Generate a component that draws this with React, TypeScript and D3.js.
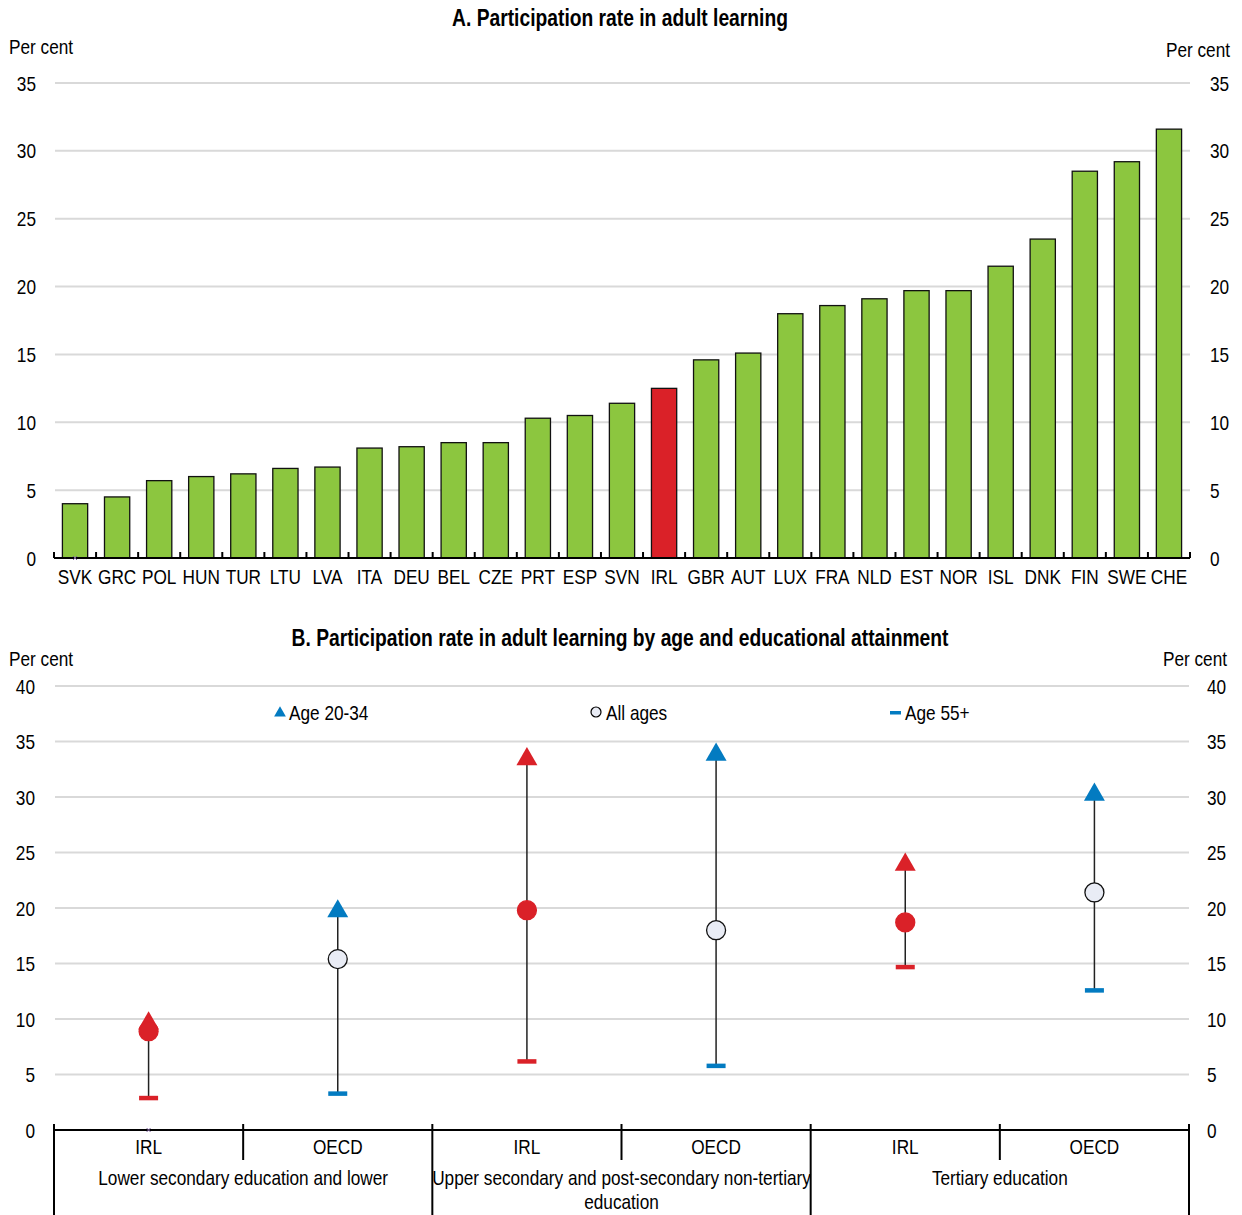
import React from "react";
import * as d3 from "d3";

const countries = ["SVK","GRC","POL","HUN","TUR","LTU","LVA","ITA","DEU","BEL","CZE","PRT","ESP","SVN","IRL","GBR","AUT","LUX","FRA","NLD","EST","NOR","ISL","DNK","FIN","SWE","CHE"];
const rates = [4.0,4.5,5.7,6.0,6.2,6.6,6.7,8.1,8.2,8.5,8.5,10.3,10.5,11.4,12.5,14.6,15.1,18.0,18.6,19.1,19.7,19.7,21.5,23.5,28.5,29.2,31.6];
const highlightCountry = "IRL";
const yTicksA = [0,5,10,15,20,25,30,35];

const groups = ["Lower secondary education and lower", "Upper secondary and post-secondary non-tertiary|education", "Tertiary education"];
const entities = ["IRL","OECD"];
const age2034 = [9.7, 19.8, 33.5, 33.9, 24.0, 30.3];
const allAges = [8.9, 15.4, 19.8, 18.0, 18.7, 21.4];
const age55 = [2.9, 3.3, 6.2, 5.8, 14.7, 12.6];
const yTicksB = [0,5,10,15,20,25,30,35,40];
const legendLabels = ["Age 20-34", "All ages", "Age 55+"];

const FONT = "'Liberation Sans',Arial,sans-serif";
const GREEN = "#8CC63F";
const RED = "#DA2128";
const BLUE = "#037BC1";
const GRID = "#D9D9D9";
const LIGHT = "#E9ECF5";
const NARROW = 0.82;

function T(props: { x: number; y: number; anchor?: string; size?: number; bold?: boolean; children: React.ReactNode }) {
  const { x, y, anchor = "start", size = 21, bold = false, children } = props;
  return (
    <text transform={`translate(${x},${y}) scale(${NARROW},1)`} textAnchor={anchor} fontSize={size}
      fontWeight={bold ? "bold" : "normal"} fill="#000">{children}</text>
  );
}

export default function App() {
  const left = 54, right = 1190;
  // Panel A
  const yA = d3.scaleLinear().domain([0, 35]).range([558, 83]);
  const xA = d3.scaleBand<string>().domain(countries).range([left, right]).paddingInner(0.4).paddingOuter(0.2);
  const boundariesA = d3.range(countries.length + 1).map(i => left + i * ((right - left) / countries.length));

  // Panel B
  const yB = d3.scaleLinear().domain([0, 40]).range([1130, 686]);
  const cats = d3.range(6).map(String);
  const xB = d3.scaleBand<string>().domain(cats).range([left, 1189]);
  const bw = xB.bandwidth();
  const tri = d3.symbol().type(d3.symbolTriangle).size(190)();

  return (
    <svg width={1242} height={1215} style={{ position: "absolute", left: 0, top: 0, background: "#fff" }} fontFamily={FONT}>
      {/* Panel A */}
      <T x={620} y={26} anchor="middle" bold size={23.5}>A. Participation rate in adult learning</T>
      <T x={9} y={54}>Per cent</T>
      <T x={1230} y={57} anchor="end">Per cent</T>
      {yTicksA.map(t => (
        <g key={"ga" + t}>
          {t > 0 && <line x1={55} x2={1190} y1={yA(t)} y2={yA(t)} stroke={GRID} strokeWidth={2} />}
          <T x={36} y={yA(t) + 7.5} anchor="end">{t}</T>
          <T x={1210} y={yA(t) + 7.5}>{t}</T>
        </g>
      ))}
      {countries.map((c, i) => (
        <rect key={c} x={xA(c)!} y={yA(rates[i])} width={xA.bandwidth()} height={yA(0) - yA(rates[i])}
          fill={c === highlightCountry ? RED : GREEN} stroke="#111" strokeWidth={1.3} />
      ))}
      <line x1={left} x2={right} y1={yA(0)} y2={yA(0)} stroke="#000" strokeWidth={2} />
      {boundariesA.map((b, i) => (
        <line key={"ta" + i} x1={b} x2={b} y1={yA(0)} y2={yA(0) - 6} stroke="#000" strokeWidth={2} />
      ))}
      <path d={`M${xA(countries[0])! + xA.bandwidth() / 2 - 2},${yA(0) - 2}l4,4M${xA(countries[0])! + xA.bandwidth() / 2 + 2},${yA(0) - 2}l-4,4`} stroke="#8064A2" strokeWidth={1} />
      {countries.map(c => (
        <T key={"la" + c} x={xA(c)! + xA.bandwidth() / 2} y={584} anchor="middle">{c}</T>
      ))}

      {/* Panel B */}
      <T x={620} y={646} anchor="middle" bold size={23.5}>B. Participation rate in adult learning by age and educational attainment</T>
      <T x={9} y={666}>Per cent</T>
      <T x={1227} y={666} anchor="end">Per cent</T>
      {yTicksB.map(t => (
        <g key={"gb" + t}>
          {t > 0 && <line x1={55} x2={1189} y1={yB(t)} y2={yB(t)} stroke={GRID} strokeWidth={2} />}
          <T x={35} y={yB(t) + 7.5} anchor="end">{t}</T>
          <T x={1207} y={yB(t) + 7.5}>{t}</T>
        </g>
      ))}

      {/* legend */}
      <path d={d3.symbol().type(d3.symbolTriangle).size(60)()!} transform="translate(280,713)" fill={BLUE} />
      <T x={289} y={720}>{legendLabels[0]}</T>
      <circle cx={596} cy={712} r={5} fill={LIGHT} stroke="#000" strokeWidth={1.2} />
      <T x={606} y={720}>{legendLabels[1]}</T>
      <rect x={890} y={711} width={11} height={3.5} fill={BLUE} />
      <T x={905} y={720}>{legendLabels[2]}</T>

      {cats.map((c, i) => {
        const cx = xB(c)! + bw / 2;
        const isIRL = entities[i % 2] === "IRL";
        const col = isIRL ? RED : BLUE;
        return (
          <g key={"pt" + c}>
            <line x1={cx} x2={cx} y1={yB(age55[i])} y2={yB(age2034[i])} stroke="#222" strokeWidth={1.5} />
            <rect x={cx - 9.5} y={yB(age55[i]) - 2} width={19} height={4.5} fill={col} />
            <path d={tri!} transform={`translate(${cx},${yB(age2034[i]) + 1})`} fill={col} />
            <circle cx={cx} cy={yB(allAges[i])} r={9.5} fill={isIRL ? RED : LIGHT} stroke={isIRL ? RED : "#111"} strokeWidth={1.3} />
          </g>
        );
      })}

      <line x1={left} x2={1189} y1={yB(0)} y2={yB(0)} stroke="#000" strokeWidth={2} />
      <path d={`M${xB("0")! + bw / 2 - 2},${yB(0) - 2}l4,4M${xB("0")! + bw / 2 + 2},${yB(0) - 2}l-4,4`} stroke="#8064A2" strokeWidth={1} />
      {d3.range(7).map(i => {
        const x = left + i * bw;
        const major = i % 2 === 0;
        return <line key={"tb" + i} x1={x} x2={x} y1={1124} y2={major ? 1215 : 1160} stroke="#000" strokeWidth={2} />;
      })}
      {cats.map((c, i) => (
        <T key={"lb" + c} x={xB(c)! + bw / 2} y={1154} anchor="middle">{entities[i % 2]}</T>
      ))}
      {groups.map((g, gi) => {
        const cx = left + (gi * 2 + 1) * bw;
        const lines = g.split("|");
        return lines.map((ln, li) => (
          <T key={"gl" + gi + li} x={cx} y={1185 + li * 24} anchor="middle">{ln}</T>
        ));
      })}
    </svg>
  );
}
